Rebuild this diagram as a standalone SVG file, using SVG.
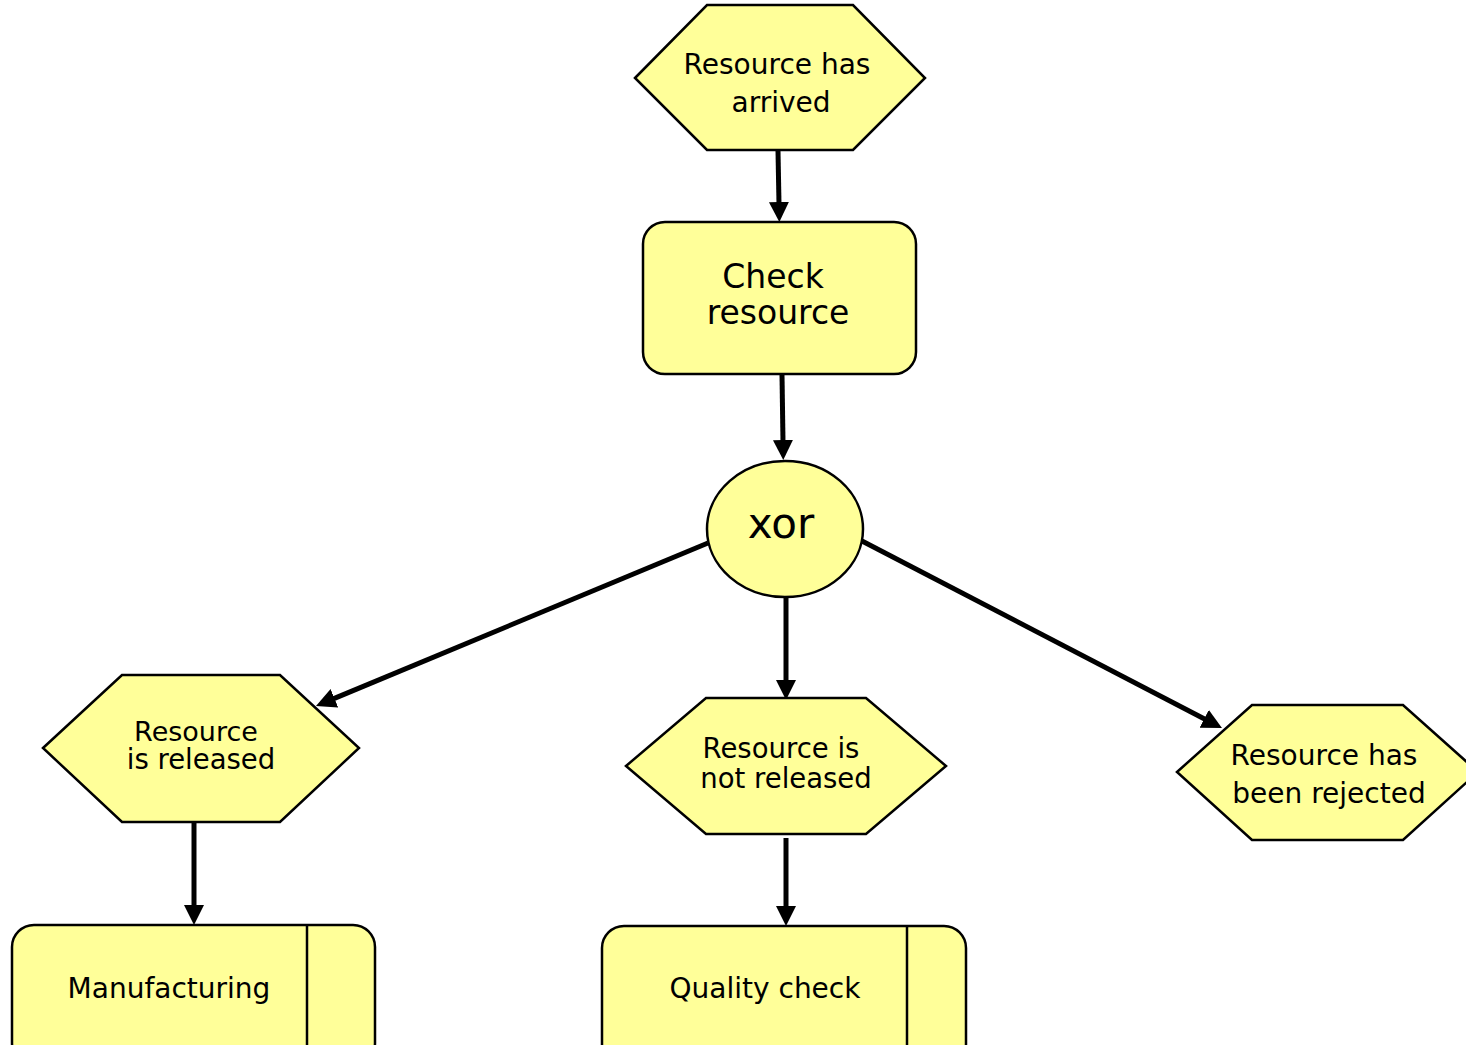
<svg xmlns="http://www.w3.org/2000/svg" width="1466" height="1045" viewBox="0 0 1466 1045">
<defs>
<style>
.n{fill:#FFFF99;stroke:#000;stroke-width:2.5}
.t{font-family:"DejaVu Sans",sans-serif;font-size:28px;fill:#000;text-anchor:middle}
.c{stroke:#000;stroke-width:5;fill:none;marker-end:url(#ah)}
</style>
<marker id="ah" markerUnits="userSpaceOnUse" markerWidth="22" markerHeight="22" refX="2" refY="10" orient="auto" viewBox="0 0 22 22">
<path d="M0,0 L20,10 L0,20 z" fill="#000"/>
</marker>
</defs>
<rect width="1466" height="1045" fill="#fff"/>
<g id="connectors">
<line class="c" x1="778" y1="151" x2="779" y2="204"/>
<line class="c" x1="782" y1="375" x2="783" y2="442"/>
<line class="c" x1="708" y1="543" x2="332.6" y2="699.1"/>
<line class="c" x1="786" y1="598" x2="786" y2="682"/>
<line class="c" x1="862" y1="541" x2="1206" y2="719.7"/>
<line class="c" x1="194" y1="822" x2="194" y2="907"/>
<line class="c" x1="786" y1="838" x2="786" y2="908"/>
</g>
<g id="ev-arrived">
<polygon class="n" points="635,78 707,5 853,5 925,78 853,150 707,150"/>
<text class="t" x="777" y="74">Resource has</text>
<text class="t" x="781" y="112">arrived</text>
</g>
<g id="fn-check">
<rect class="n" x="643" y="222" width="273" height="152" rx="22"/>
<text class="t" x="773" y="288" style="font-size:33px">Check</text>
<text class="t" x="778" y="324" style="font-size:33px">resource</text>
</g>
<g id="xor">
<ellipse class="n" cx="785" cy="529" rx="78" ry="68"/>
<text class="t" x="781" y="538" style="font-size:42px">xor</text>
</g>
<g id="ev-released">
<polygon class="n" points="43,748 122,675 280,675 359,748 280,822 122,822"/>
<text class="t" x="196" y="741" style="font-size:27px">Resource</text>
<text class="t" x="201" y="769" style="font-size:27.5px">is released</text>
</g>
<g id="ev-not-released">
<polygon class="n" points="626,766 706,698 866,698 946,766 866,834 706,834"/>
<text class="t" x="781" y="758" style="font-size:27.5px">Resource is</text>
<text class="t" x="786" y="788" style="font-size:27.5px">not released</text>
</g>
<g id="ev-rejected">
<polygon class="n" points="1177,772 1252,705 1403,705 1478,772 1403,840 1252,840"/>
<text class="t" x="1324" y="765">Resource has</text>
<text class="t" x="1329" y="803">been rejected</text>
</g>
<g id="fn-manufacturing">
<rect class="n" x="12" y="925" width="363" height="140" rx="22"/>
<line x1="307" y1="925" x2="307" y2="1045" stroke="#000" stroke-width="2.5"/>
<text class="t" x="169" y="998">Manufacturing</text>
</g>
<g id="fn-quality">
<rect class="n" x="602" y="926" width="364" height="140" rx="22"/>
<line x1="907" y1="926" x2="907" y2="1045" stroke="#000" stroke-width="2.5"/>
<text class="t" x="765" y="998">Quality check</text>
</g>
</svg>
